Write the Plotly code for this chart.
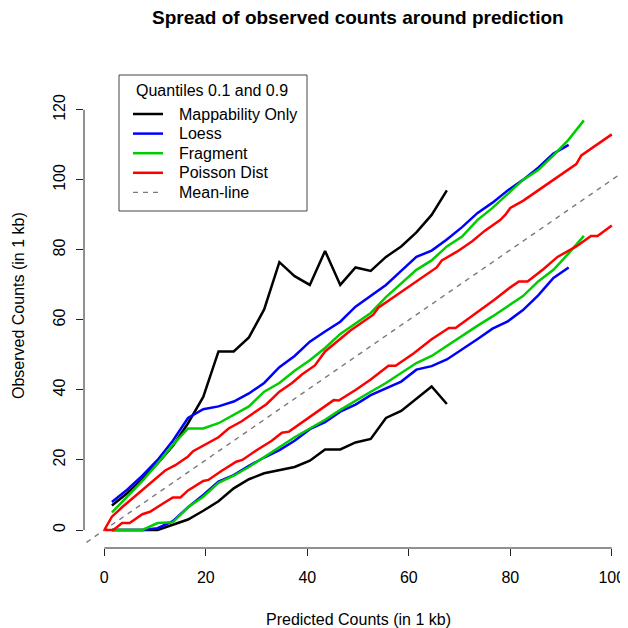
import plotly.graph_objects as go

# ---- data ----
x_map = [1.5, 4.5, 7.5, 10.5, 13.5, 16.5, 19.5, 22.5, 25.5, 28.5, 31.5, 34.5,
         37.5, 40.5, 43.5, 46.5, 49.5, 52.5, 55.5, 58.5, 61.5, 64.5, 67.5]
map_hi = [7, 10.5, 14.5, 19, 24, 30.5, 38, 51, 51, 55, 63, 76.5,
          72.5, 70, 79.7, 70, 75, 74, 78, 81, 85, 90, 97]
map_lo = [0, 0, 0, 0, 1.5, 3, 5.5, 8.2, 11.9, 14.5, 16.2, 17,
          18, 19.8, 23, 23, 25, 26, 32, 34, 37.6, 41, 36]

x_loess = [1.5, 4.5, 7.5, 10.5, 13.5, 16.5, 19.5, 22.5, 25.5, 28.5, 31.5, 34.5,
           37.5, 40.5, 43.5, 46.5, 49.5, 52.5, 55.5, 58.5, 61.5, 64.5, 67.5,
           70.5, 73.5, 76.5, 79.5, 82.5, 85.5, 88.5, 91.5]
loess_hi = [8, 11.5, 15.5, 20, 25.5, 32, 34.5, 35.3, 36.7, 39, 42, 46.5,
            49.7, 53.8, 56.7, 59.5, 63.8, 67, 70, 74, 78, 79.8, 83,
            86.5, 90.5, 93.5, 97, 100, 103.5, 107.5, 110]
loess_lo = [0, 0, 0, 0.5, 2.5, 6.5, 10, 13.8, 15.7, 18.3, 20.7, 22.8,
            25.5, 28.8, 30.8, 33.8, 35.8, 38.5, 40.5, 42.4, 45.8, 46.8, 48.7,
            51.5, 54.5, 57.5, 59.6, 62.8, 67, 72, 75]

x_frag = [1.5, 4.5, 7.5, 10.5, 13.5, 16.5, 19.5, 22.5, 25.5, 28.5, 31.5, 34.5,
          37.5, 40.5, 43.5, 46.5, 49.5, 52.5, 55.5, 58.5, 61.5, 64.5, 67.5,
          70.5, 73.5, 76.5, 79.5, 82.5, 85.5, 88.5, 91.5, 94.5]
frag_hi = [5, 9.5, 14, 19, 24.3, 29, 29, 30.5, 32.8, 35.3, 39.5, 42,
           45.5, 48.5, 52, 56, 59, 62, 66.5, 70.5, 74.3, 77, 81,
           83.8, 88.5, 92, 96, 100, 102.8, 107, 111.5, 117]
frag_lo = [0, 0, 0, 2, 2.2, 6.5, 9.5, 13.5, 15.5, 18, 20.8, 23.5,
           26.5, 29, 31.5, 34.3, 37, 39.5, 42, 44.8, 47.7, 49.7, 52.6,
           55.4, 58.3, 61, 64, 66.8, 71, 74.3, 79, 84]

x_pois_hi = [0, 1.5, 3.5, 5.5, 7.5, 10, 12, 14, 16.5, 17.5, 20, 22.5, 24.5, 27,
             29.5, 32, 34.5, 37, 39, 41.5, 43.5, 46, 48.5, 51, 53, 54, 56.5, 59,
             61.5, 64, 65.5, 66.5, 69.5, 72.5, 75, 78, 79, 80, 82.5, 85, 88,
             90.5, 93, 94, 97, 100]
pois_hi = [0, 3.8, 6.5, 9, 11.5, 14.5, 17, 18.5, 21, 22.5, 24.5, 26.5, 29, 31,
           33.5, 36, 39.5, 42, 44.5, 47, 51, 54, 57, 59.5, 61.5, 63.5, 66, 68.5,
           71, 73.5, 75, 77, 79.5, 82.5, 85.5, 88.5, 90, 92, 94, 96.5, 99.5,
           102, 104.5, 107, 110, 113]
x_pois_lo = [0, 1.8, 3.5, 5, 7.5, 9, 11.5, 13.5, 15, 16.5, 19.5, 20.5, 23, 26,
             27.2, 30, 33, 35, 36.4, 39.3, 42.3, 45.2, 46.2, 49.5, 52.5, 56,
             57.4, 61, 64.5, 67.9, 69.2, 72.8, 76.8, 80, 81.7, 83.4, 86.5, 89.3,
             93, 95.9, 97.2, 100]
pois_lo = [0, 0, 2, 2, 4.5, 5.2, 7.5, 9.3, 9.3, 11.3, 14, 14.3, 16.8, 19.5,
           20, 22.8, 25.5, 27.8, 28.1, 31, 34, 37.1, 37, 40, 43, 46.9,
           46.9, 50.5, 54.5, 57.7, 57.7, 61.4, 65.7, 69.3, 71, 71, 74.5, 78,
           81, 84, 84, 87]

mean_x = [-10, 120]          # y = x reference line (clipped by the axes)
mean_y = [-10, 120]

x_ticks = [0, 20, 40, 60, 80, 100]
y_ticks = [0, 20, 40, 60, 80, 100, 120]

legend_title = "Quantiles 0.1 and 0.9"
legend_names = ["Mappability Only", "Loess", "Fragment", "Poisson Dist", "Mean-line"]

BLACK, BLUE, GREEN, RED, GRAY = "#000000", "#0000FF", "#00CD00", "#FF0000", "#7a7a7a"
LW = 2.5
MEAN_DASH = "5px,5px"

fig = go.Figure()
series = [
    ("Mappability Only", BLACK, x_map, map_hi, map_lo),
    ("Loess", BLUE, x_loess, loess_hi, loess_lo),
    ("Fragment", GREEN, x_frag, frag_hi, frag_lo),
    ("Poisson Dist", RED, None, None, None),
]
fig.add_trace(go.Scatter(x=mean_x, y=mean_y, mode="lines", name="Mean-line",
                         line=dict(color=GRAY, width=1.4, dash=MEAN_DASH)))
for name, col, xs, hi, lo in series[:3]:
    fig.add_trace(go.Scatter(x=xs, y=hi, mode="lines", name=name,
                             line=dict(color=col, width=LW)))
    fig.add_trace(go.Scatter(x=xs, y=lo, mode="lines", name=name,
                             line=dict(color=col, width=LW)))
fig.add_trace(go.Scatter(x=x_pois_hi, y=pois_hi, mode="lines", name="Poisson Dist",
                         line=dict(color=RED, width=LW)))
fig.add_trace(go.Scatter(x=x_pois_lo, y=pois_lo, mode="lines", name="Poisson Dist",
                         line=dict(color=RED, width=LW)))

FONT = "Liberation Sans, Arial, Helvetica, sans-serif"
# The page body adds an 8px offset; work in screen pixels and convert.
OFF = 8
W = H = 628 - OFF
PL, PR, PT, PB = 84, 626, 64, 548          # plot area in screen pixels
L, R, T, B = PL - OFF, W - (PR - OFF), PT - OFF, H - (PB - OFF)


def px(sx):
    return (sx - PL) / (PR - PL)


def py(sy):
    return (PB - sy) / (PB - PT)


fig.update_layout(
    width=W, height=H,
    margin=dict(l=L, r=R, t=T, b=B),
    paper_bgcolor="white", plot_bgcolor="white",
    font=dict(family=FONT, size=16, color="black"),
    showlegend=False,
    xaxis=dict(range=[-4, 102.8], tickvals=x_ticks, ticks="outside", ticklen=7,
               tickwidth=1, tickcolor="#222", showgrid=False, zeroline=False,
               showline=False, ticklabelstandoff=8,
               tickfont=dict(size=16, family=FONT)),
    yaxis=dict(range=[-5.14, 133.1], tickvals=y_ticks, ticks="outside", ticklen=7,
               tickwidth=1, tickcolor="#222", showgrid=False, zeroline=False,
               showline=False, tickangle=-90, ticklabelstandoff=5,
               tickfont=dict(size=16, family=FONT)),
)

# R-style axis lines spanning the first to last tick
fig.add_shape(type="line", xref="x", yref="paper", x0=x_ticks[0], x1=x_ticks[-1],
              y0=0, y1=0, line=dict(color="#222", width=1))
fig.add_shape(type="line", xref="paper", yref="y", x0=0, x1=0,
              y0=y_ticks[0], y1=y_ticks[-1], line=dict(color="#222", width=1))

# titles
fig.add_annotation(text="<b>Spread of observed counts around prediction</b>",
                   xref="paper", yref="paper", x=px(358), y=py(18),
                   xanchor="center", yanchor="middle", showarrow=False,
                   font=dict(size=19, family=FONT))
fig.add_annotation(text="Predicted Counts (in 1 kb)", xref="paper", yref="paper",
                   x=px(358), y=py(619), xanchor="center", yanchor="middle",
                   showarrow=False, font=dict(size=16, family=FONT))
fig.add_annotation(text="Observed Counts (in 1 kb)", xref="paper", yref="paper",
                   x=px(18), y=py(306), xanchor="center", yanchor="middle",
                   textangle=-90, showarrow=False, font=dict(size=16, family=FONT))

# legend box (R style)
fig.add_shape(type="rect", xref="paper", yref="paper", x0=px(119), x1=px(307),
              y0=py(211), y1=py(75), line=dict(color="#444", width=1),
              fillcolor="white", layer="above")
fig.add_annotation(text=legend_title, xref="paper", yref="paper", x=px(212),
                   y=py(91), xanchor="center", yanchor="middle", showarrow=False,
                   font=dict(size=16, family=FONT))
leg_cols = [BLACK, BLUE, GREEN, RED, GRAY]
row0, gap = 114, 19.6
for i, (nm, col) in enumerate(zip(legend_names, leg_cols)):
    yy = py(row0 + i * gap)
    dash = MEAN_DASH if nm == "Mean-line" else "solid"
    fig.add_shape(type="line", xref="paper", yref="paper", x0=px(133), x1=px(163),
                  y0=yy, y1=yy, layer="above",
                  line=dict(color=col, width=1.4 if nm == "Mean-line" else LW, dash=dash))
    fig.add_annotation(text=nm, xref="paper", yref="paper", x=px(177), y=yy,
                       xanchor="left", yanchor="middle", showarrow=False,
                       font=dict(size=16, family=FONT))

fig.write_html("out.html")
